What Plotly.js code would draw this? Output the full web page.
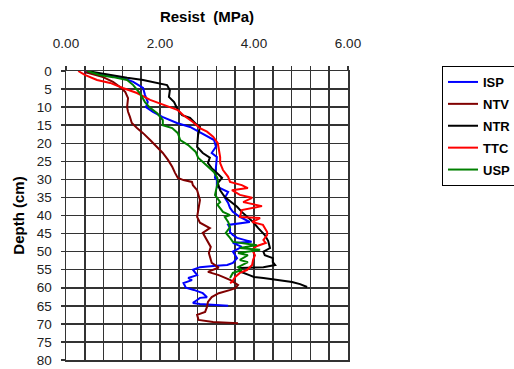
<!DOCTYPE html>
<html>
<head>
<meta charset="utf-8">
<script src="https://cdn.plot.ly/plotly-3.0.1.min.js"></script>
<style>html,body{margin:0;padding:0;background:#fff;}#chart{width:514px;height:369px;}</style>
</head>
<body>
<div id="chart"></div>
<script>
// ---- data (Resist in MPa vs Depth in cm) ----
const seriesNames = ["ISP", "NTV", "NTR", "TTC", "USP"];

const ispDepth  = [0.3, 1.1, 1.9, 3.0, 4.7, 6.6, 8.6, 10.0, 11.3, 12.7, 13.6, 14.4, 15.5, 16.8, 18.2, 19.1, 21.0, 22.7, 23.8, 26.0, 28.2, 29.6, 30.2, 32.0, 32.4, 33.5, 35.1, 36.5, 37.9, 39.0, 40.4, 41.8, 42.6, 43.5, 44.6, 45.4, 46.2, 47.3, 47.6, 48.7, 50.0, 51.8, 53.1, 53.7, 54.0, 54.3, 55.0, 56.5, 57.3, 57.9, 58.7, 60.0, 60.6, 61.5, 62.6, 62.8, 63.4, 64.2, 64.5, 64.8, 65.0];
const ispResist = [0.40, 0.79, 1.21, 1.43, 1.64, 1.68, 1.74, 1.70, 1.85, 2.05, 2.21, 2.36, 2.64, 2.82, 3.02, 3.15, 3.19, 3.10, 3.21, 3.19, 3.17, 3.17, 3.21, 3.21, 3.28, 3.45, 3.38, 3.45, 3.49, 3.55, 3.70, 3.91, 3.45, 3.49, 3.49, 3.55, 3.64, 3.95, 3.55, 3.74, 3.55, 3.64, 3.55, 3.43, 3.13, 2.85, 2.70, 2.79, 2.60, 2.68, 2.50, 2.55, 2.72, 2.91, 3.00, 2.85, 2.79, 2.70, 2.85, 3.13, 3.45];

const ntvDepth  = [0.3, 1.7, 3.0, 4.4, 5.8, 7.5, 10.0, 11.3, 12.7, 14.4, 15.8, 17.2, 19.1, 21.0, 22.7, 24.6, 26.5, 28.2, 29.6, 30.2, 30.7, 31.6, 33.0, 35.7, 38.5, 40.4, 42.0, 43.5, 44.8, 46.8, 48.7, 50.4, 53.1, 54.4, 55.6, 56.5, 57.9, 59.2, 60.1, 60.6, 61.5, 62.6, 63.9, 65.3, 66.7, 67.5, 68.9, 69.5, 69.8];
const ntvResist = [0.40, 0.79, 1.00, 1.15, 1.26, 1.32, 1.30, 1.32, 1.36, 1.40, 1.51, 1.64, 1.79, 1.94, 2.06, 2.17, 2.26, 2.32, 2.38, 2.50, 2.68, 2.70, 2.79, 2.85, 2.81, 2.79, 2.85, 3.06, 2.91, 3.00, 3.08, 3.04, 3.10, 3.25, 3.02, 3.25, 3.50, 3.66, 3.60, 3.50, 3.25, 3.10, 3.02, 3.00, 2.96, 2.79, 2.82, 3.13, 3.66];

const ntrDepth  = [0.0, 0.8, 1.9, 2.5, 3.3, 3.9, 5.3, 7.2, 8.6, 10.0, 10.8, 12.2, 13.0, 15.0, 15.5, 17.7, 21.0, 22.7, 24.0, 25.5, 26.9, 28.2, 29.6, 31.0, 33.0, 34.9, 36.5, 37.6, 39.0, 40.4, 41.8, 43.5, 44.0, 45.4, 47.0, 49.0, 50.0, 51.0, 51.8, 52.9, 53.7, 54.3, 54.5, 55.5, 56.5, 57.0, 57.3, 57.6, 58.1, 58.4, 59.0, 59.8];
const ntrResist = [0.45, 0.79, 1.30, 1.64, 1.94, 2.15, 2.21, 2.19, 2.30, 2.36, 2.38, 2.47, 2.64, 2.79, 2.85, 2.81, 2.79, 2.91, 3.06, 3.02, 3.10, 3.21, 3.32, 3.23, 3.28, 3.38, 3.53, 3.64, 3.74, 3.85, 3.98, 4.09, 4.13, 4.23, 4.30, 4.34, 4.20, 4.23, 4.40, 4.40, 4.45, 4.20, 3.70, 3.70, 3.90, 4.00, 4.20, 4.40, 4.62, 4.81, 4.98, 5.13];

const ttcDepth  = [0.0, 1.1, 2.5, 3.3, 4.7, 6.1, 8.0, 8.9, 10.0, 10.8, 12.2, 14.1, 15.8, 16.8, 18.2, 20.0, 21.4, 23.8, 25.5, 27.4, 29.3, 30.7, 31.6, 32.4, 33.0, 34.3, 35.1, 36.3, 37.4, 38.5, 40.4, 40.7, 41.8, 42.6, 44.6, 45.4, 46.8, 47.6, 48.5, 49.5, 51.0, 52.3, 53.7, 55.1, 55.9, 57.0, 58.4, 58.7];
const ttcResist = [0.26, 0.40, 0.66, 0.94, 1.21, 1.51, 1.79, 2.00, 2.21, 2.38, 2.49, 2.70, 2.85, 3.00, 3.13, 3.23, 3.25, 3.28, 3.28, 3.34, 3.45, 3.49, 3.74, 3.87, 3.53, 3.70, 3.96, 3.77, 4.17, 3.74, 3.70, 4.13, 3.96, 4.19, 4.28, 4.28, 4.20, 4.25, 4.05, 3.96, 4.02, 3.98, 3.96, 3.85, 3.70, 3.60, 3.53, 3.49];

const uspDepth  = [0.0, 1.1, 1.7, 2.5, 3.9, 6.1, 8.6, 10.2, 11.7, 13.6, 15.0, 15.8, 17.2, 19.1, 20.5, 22.4, 24.0, 25.2, 26.6, 28.0, 29.6, 31.0, 32.0, 34.3, 36.3, 37.0, 39.0, 39.9, 40.4, 41.8, 43.2, 44.8, 46.2, 47.3, 48.2, 49.0, 49.5, 50.4, 51.0, 52.3, 52.9, 54.3, 55.1, 55.9, 57.3];
const uspResist = [0.45, 0.72, 1.00, 1.30, 1.43, 1.57, 1.68, 1.79, 1.94, 2.06, 2.06, 2.26, 2.38, 2.43, 2.60, 2.76, 2.81, 2.91, 3.02, 3.15, 3.22, 3.23, 3.21, 3.17, 3.28, 3.22, 3.34, 3.49, 3.38, 3.45, 3.49, 3.40, 3.49, 3.55, 4.06, 3.70, 4.13, 3.66, 3.87, 3.70, 3.87, 3.66, 3.74, 3.55, 3.49];

const xTickVals   = [0, 2, 4, 6];
const xTickLabels = ["0.00", "2.00", "4.00", "6.00"];

// ---- styling ----
const colors = ["#0000FF", "#800000", "#000000", "#FF0000", "#008000"];
const depths = [ispDepth, ntvDepth, ntrDepth, ttcDepth, uspDepth];
const resists = [ispResist, ntvResist, ntrResist, ttcResist, uspResist];

const traces = seriesNames.map((name, i) => ({
  type: "scatter",
  mode: "lines",
  name: name,
  x: resists[i],
  y: depths[i],
  line: {color: colors[i], width: 2},
  legendgroup: name,
  hoverinfo: "skip"
}));

const gridColor = "#333333";
const FONT = "Arial, 'Liberation Sans', sans-serif";

const layout = {
  width: 514,
  height: 369,
  margin: {l: 66, r: 166, t: 71, b: 9, pad: 0, autoexpand: false},
  paper_bgcolor: "#ffffff",
  plot_bgcolor: "#ffffff",
  font: {family: FONT, color: "#000", size: 13},
  title: {
    text: "Resist  (MPa)",
    font: {family: FONT, size: 15, weight: "bold", color: "#000"},
    x: 207 / 514, xref: "container", xanchor: "center",
    y: 1 - 17 / 369, yref: "container", yanchor: "middle"
  },
  xaxis: {
    side: "top",
    range: [0, 6],
    tickvals: xTickVals,
    ticktext: xTickLabels,
    ticks: "outside",
    ticklen: 4,
    tickcolor: gridColor,
    tickwidth: 1.5,
    showgrid: true,
    gridcolor: gridColor,
    gridwidth: 1.5,
    zeroline: false,
    showline: true,
    mirror: true,
    linecolor: gridColor,
    linewidth: 1.5,
    ticklabelstandoff: 12,
    automargin: false,
    tickfont: {family: FONT, size: 13.5, color: "#222"},
    minor: {dtick: 0.4, tick0: 0, ticks: "outside", ticklen: 4, tickcolor: gridColor, tickwidth: 1.5,
            showgrid: true, gridcolor: gridColor, gridwidth: 1.5},
    fixedrange: true
  },
  yaxis: {
    range: [80, 0],
    dtick: 5,
    tick0: 0,
    ticks: "outside",
    ticklen: 4,
    tickcolor: gridColor,
    tickwidth: 1.5,
    showgrid: true,
    gridcolor: gridColor,
    gridwidth: 1.5,
    zeroline: false,
    showline: true,
    mirror: true,
    linecolor: gridColor,
    linewidth: 1.5,
    ticklabelstandoff: 6,
    automargin: false,
    tickfont: {family: FONT, size: 13.5, color: "#222"},
    title: {text: "Depth (cm)", font: {family: FONT, size: 15, weight: "bold", color: "#000"}, standoff: 8},
    fixedrange: true
  },
  showlegend: true,
  legend: {
    x: (442 - 66) / 282, xanchor: "left",
    y: (360 - 66) / 289, yanchor: "top",
    bgcolor: "#ffffff",
    bordercolor: "#000",
    borderwidth: 1,
    font: {family: FONT, size: 13, weight: "bold", color: "#000"},
    traceorder: "grouped",
    tracegroupgap: 2,
    itemwidth: 30
  }
};

Plotly.newPlot("chart", traces, layout, {staticPlot: true, displayModeBar: false});
</script>
</body>
</html>
